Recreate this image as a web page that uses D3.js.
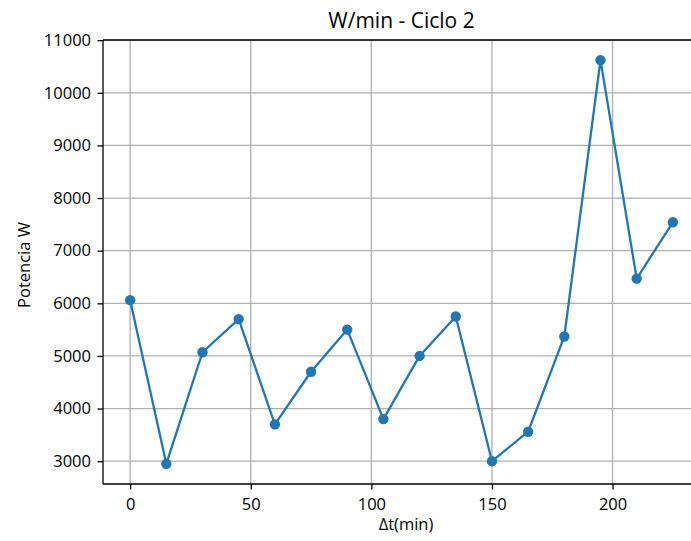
<!DOCTYPE html>
<html>
<head>
<meta charset="utf-8">
<script src="https://cdn.jsdelivr.net/npm/d3@7"></script>
<style>
  body { margin: 0; background: #fff; overflow: hidden; }
  svg { display: block; font-family: 'Open Sans', sans-serif; }
</style>
</head>
<body>
<div id="chart"></div>
<script>
// data
const minutes = [0, 15, 30, 45, 60, 75, 90, 105, 120, 135, 150, 165, 180, 195, 210, 225];
const watts = [6060, 2950, 5070, 5700, 3700, 4700, 5500, 3800, 5000, 5750, 3000, 3560, 5370, 10620, 6470, 7540];
const xTicks = [0, 50, 100, 150, 200];
const yTicks = [3000, 4000, 5000, 6000, 7000, 8000, 9000, 10000, 11000];

const W = 691, H = 541;
const FONT = "'Open Sans', sans-serif";
// the reference is cropped on the right, so the plot area runs past the edge
const margin = { top: 40, right: -9, bottom: 57, left: 103 };
const iw = W - margin.left - margin.right, ih = H - margin.top - margin.bottom;

const svg = d3.select('#chart').append('svg').attr('width', W).attr('height', H);
const g = svg.append('g').attr('transform', `translate(${margin.left},${margin.top})`);

// matplotlib-style 5% margins
const xPad = (d3.max(minutes) - d3.min(minutes)) * 0.05;
const yPad = (d3.max(watts) - d3.min(watts)) * 0.05;
const x = d3.scaleLinear().domain([d3.min(minutes) - xPad, d3.max(minutes) + xPad]).range([0, iw]);
const y = d3.scaleLinear().domain([d3.min(watts) - yPad, d3.max(watts) + yPad]).range([ih, 0]);

// grid
g.append('g').selectAll('line').data(xTicks).join('line')
  .attr('x1', d => x(d)).attr('x2', d => x(d)).attr('y1', 0).attr('y2', ih)
  .attr('stroke', '#b0b0b0').attr('stroke-width', 1.3);
g.append('g').selectAll('line').data(yTicks).join('line')
  .attr('x1', 0).attr('x2', iw).attr('y1', d => y(d)).attr('y2', d => y(d))
  .attr('stroke', '#b0b0b0').attr('stroke-width', 1.3);

// series
const line = d3.line().x((d, i) => x(minutes[i])).y(d => y(d));
g.append('path').datum(watts).attr('d', line)
  .attr('fill', 'none').attr('stroke', '#1f77b4').attr('stroke-width', 2.3).attr('stroke-linejoin', 'round');
g.selectAll('circle').data(watts).join('circle')
  .attr('cx', (d, i) => x(minutes[i])).attr('cy', d => y(d)).attr('r', 5.2)
  .attr('fill', '#1f77b4');

// axes
const xAxis = g.append('g').attr('transform', `translate(0,${ih})`)
  .call(d3.axisBottom(x).tickValues(xTicks).tickSize(5.5).tickPadding(8.5).tickFormat(d3.format('d')));
const yAxis = g.append('g')
  .call(d3.axisLeft(y).tickValues(yTicks).tickSize(5.5).tickPadding(6.5).tickFormat(d3.format('d')));
[xAxis, yAxis].forEach(a => {
  a.select('.domain').remove();
  a.selectAll('.tick line').attr('stroke', '#000').attr('stroke-width', 1.3);
  a.selectAll('.tick text').attr('fill', '#000').attr('font-size', 16.5).attr('font-family', FONT);
});

// spines (right one falls outside the crop)
const spine = (x1, y1, x2, y2) => g.append('line').attr('x1', x1).attr('y1', y1).attr('x2', x2).attr('y2', y2)
  .attr('stroke', '#000').attr('stroke-width', 1.3);
spine(0, 0, 0, ih);
spine(0, ih, iw, ih);
spine(0, 0, iw, 0);

// labels
svg.append('text').attr('x', margin.left + iw / 2).attr('y', 28).attr('text-anchor', 'middle')
  .attr('font-size', 21).attr('fill', '#000').attr('font-family', FONT).text('W/min - Ciclo 2');
svg.append('text').attr('x', 406).attr('y', 530).attr('text-anchor', 'middle')
  .attr('font-size', 16.5).attr('fill', '#000').attr('font-family', FONT).text('Δt(min)');
svg.append('text').attr('transform', `translate(30,265) rotate(-90)`).attr('text-anchor', 'middle')
  .attr('font-size', 16.5).attr('fill', '#000').attr('font-family', FONT).text('Potencia W');
</script>
</body>
</html>
